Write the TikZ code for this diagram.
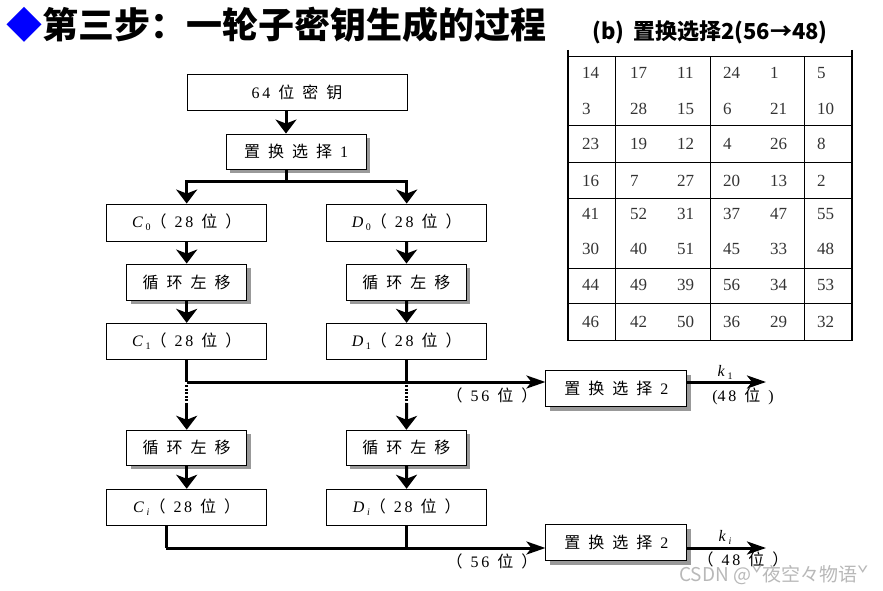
\documentclass[tikz,border=0pt]{standalone}
\usepackage{fontspec}
\setmainfont{Liberation Serif}
\newfontfamily\zh{Noto Sans CJK SC}
\usepackage{tikz}
\usetikzlibrary{arrows.meta}
\usetikzlibrary{shadows}
\newcommand\z[1]{{\zh #1}}
\newcommand\gp{\hspace{0.5em}}
\newcommand\sub[1]{\raisebox{-3pt}{\fontsize{10}{10}\selectfont #1}}

\begin{document}
\begin{tikzpicture}[x=1pt,y=-1pt,
    box/.style={draw,line width=0.9pt,fill=white,inner sep=0pt,
        minimum width=160pt,minimum height=36pt,font=\fontsize{16}{16}\selectfont},
    shbox/.style={box,drop shadow={shadow xshift=4pt,shadow yshift=-4pt,fill=gray!80,opacity=1}},
    arr/.style={line width=3pt,-{Stealth[length=14pt,width=21pt,inset=4pt]}},
    harr/.style={line width=3pt,-{Stealth[length=19pt,width=13pt,inset=5pt]}},
    lbl/.style={inner sep=0pt,font=\fontsize{16}{16}\selectfont},
    num/.style={anchor=west,inner sep=0pt,text=black!80,font=\fontsize{17}{17}\selectfont}]
		\useasboundingbox (0,0) rectangle (883,591);

		% title
		\node[anchor=west,inner sep=0pt,font=\fontsize{36}{36}\selectfont\zh\bfseries] (title) at (6,25)
		    {\textcolor{blue}{◆}第三步：一轮子密钥生成的过程};

		% key schedule
		\node[box,minimum width=220pt] (key) at (297,92.5) {6\,4\gp\z{位}\gp\z{密}\gp\z{钥}};
		\node[shbox,minimum width=140pt,minimum height=35pt] (pc1) at (296,151.5) {\z{置}\gp\z{换}\gp\z{选}\gp\z{择}\gp 1};

		\node[box,minimum height=37pt] (c0) at (186.7,222.5) {\textit{C}\,\sub{0}\z{（}\gp 2\,8\gp\z{位}\gp\z{）}};
		\node[box,minimum height=37pt] (d0) at (406.7,222.5) {\textit{D}\,\sub{0}\z{（}\gp 2\,8\gp\z{位}\gp\z{）}};

		\node[shbox,minimum width=120pt] (lsc1) at (186.7,282) {\z{循}\gp\z{环}\gp\z{左}\gp\z{移}};
		\node[shbox,minimum width=120pt] (lsd1) at (406.4,282) {\z{循}\gp\z{环}\gp\z{左}\gp\z{移}};

		\node[box] (c1) at (186.7,341.3) {\textit{C}\,\sub{1}\z{（}\gp 2\,8\gp\z{位}\gp\z{）}};
		\node[box] (d1) at (406.7,341.3) {\textit{D}\,\sub{1}\z{（}\gp 2\,8\gp\z{位}\gp\z{）}};

		\node[shbox,minimum width=120pt,minimum height=35pt] (lsc2) at (186.7,447.7) {\z{循}\gp\z{环}\gp\z{左}\gp\z{移}};
		\node[shbox,minimum width=120pt,minimum height=35pt] (lsd2) at (406.4,447.7) {\z{循}\gp\z{环}\gp\z{左}\gp\z{移}};

		\node[box] (ci) at (186.7,507.2) {\textit{C}\,\sub{\textit{i}}\z{（}\gp 2\,8\gp\z{位}\gp\z{）}};
		\node[box] (di) at (406.7,507.2) {\textit{D}\,\sub{\textit{i}}\z{（}\gp 2\,8\gp\z{位}\gp\z{）}};

		\node[shbox,minimum width=141pt] (pc2a) at (616.4,388.7) {\z{置}\gp\z{换}\gp\z{选}\gp\z{择}\gp 2};
		\node[shbox,minimum width=141pt] (pc2b) at (616.4,542.5) {\z{置}\gp\z{换}\gp\z{选}\gp\z{择}\gp 2};

		\draw[arr] ([xshift=-11pt]key.south) -- ([xshift=-10pt]pc1.north);
		\coordinate (split) at ([xshift=-10pt]pc1.south |- 0,181);
		\draw[line width=3pt] ([xshift=-10pt]pc1.south) -- (split);
		\draw[arr] (split) -| (c0.north);
		\draw[arr] (split) -| (d0.north);

		\draw[arr] (c0) -- (lsc1);
		\draw[arr] (d0) -- (lsd1);
		\draw[arr] (lsc1) -- (c1);
		\draw[arr] (lsd1) -- (d1);

		% first join
		\coordinate (j1) at (c1.south |- 0,382);
		\draw[line width=3pt] (c1.south) -- (j1);
		\draw[line width=3pt] (d1.south) -- (d1.south |- j1);
		\draw[harr] (j1) -- (j1 -| pc2a.west);
		\draw[line width=3pt,dash pattern=on 2pt off 1.6pt] ([yshift=-3pt]j1) -- (c1.south |- 0,403);
		\draw[line width=3pt,dash pattern=on 2pt off 1.6pt] ([yshift=-3pt]d1.south |- j1) -- (d1.south |- 0,403);
		\draw[arr] (c1.south |- 0,403) -- (lsc2.north);
		\draw[arr] (d1.south |- 0,403) -- (lsd2.north);

		\draw[arr] (lsc2) -- (ci);
		\draw[arr] (lsd2) -- (di);

		% second join
		\coordinate (j2) at ([xshift=-20.7pt]ci.south |- 0,548);
		\draw[line width=3pt] ([xshift=-20.7pt]ci.south) -- (j2);
		\draw[line width=3pt] (di.south) -- (di.south |- j2);
		\draw[harr] (j2) -- (j2 -| pc2b.west);

		% outputs
		\coordinate (k1) at (766,382);
		\coordinate (ki) at (766,548);
		\draw[harr] (pc2a.east |- j1) -- (k1);
		\draw[harr] (pc2b.east |- j2) -- (ki);
		\node[lbl] (k1lbl) at (725,372) {\textit{k}\,\sub{1}};
		\node[lbl] (kilbl) at (725,537) {\textit{k}\,\sub{\textit{i}}};
		\node[lbl] (k1bits) at (743,396) {(4\,8\gp\z{位}\gp)};
		\node[lbl] (kibits) at (743,559) {\z{（}\gp 4\,8\gp\z{位}\gp\z{）}};
		\node[lbl] (s1bits) at (492,395) {\z{（}\gp 5\,6\gp\z{位}\gp\z{）}};
		\node[lbl] (s2bits) at (492,561) {\z{（}\gp 5\,6\gp\z{位}\gp\z{）}};

		% PC-2 table
		\node[inner sep=0pt,font=\fontsize{22}{22}\selectfont\zh\bfseries] (tabtitle) at (710,32) {(b)\, 置换选择2(56→48)};
		\draw[line width=1pt] (567,57) -- (852,57);
		\foreach \y in {126,162.7,198.3,268.3,303.3,340}
		    \draw[line width=1pt] (567,\y) -- (852,\y);
		\foreach \x in {615,710,804}
		    \draw[line width=1pt] (\x,57) -- (\x,340);
		\draw[line width=2pt] (567.5,50) -- (567.5,341);
		\draw[line width=2pt] (851.5,50) -- (851.5,341);
		\foreach \y/\row in {73.3/{14,17,11,24,1,5},109/{3,28,15,6,21,10},144.3/{23,19,12,4,26,8},
		    180.7/{16,7,27,20,13,2},214/{41,52,31,37,47,55},249.3/{30,40,51,45,33,48},
		    285/{44,49,39,56,34,53},321.7/{46,42,50,36,29,32}}{
		    \foreach \v [count=\c] in \row {
		        \pgfmathsetmacro\xx{{582,630,677,723,770,817}[\c-1]}
		        \node[num] at (\xx,\y) {\v};
		    }
		}

		% watermark
		\node[anchor=west,inner sep=0pt,text=black!28,font=\fontsize{19}{19}\selectfont\zh] (mark) at (679,575) {CSDN @ˇ夜空々物语ˇ};
\end{tikzpicture}
\end{document}
